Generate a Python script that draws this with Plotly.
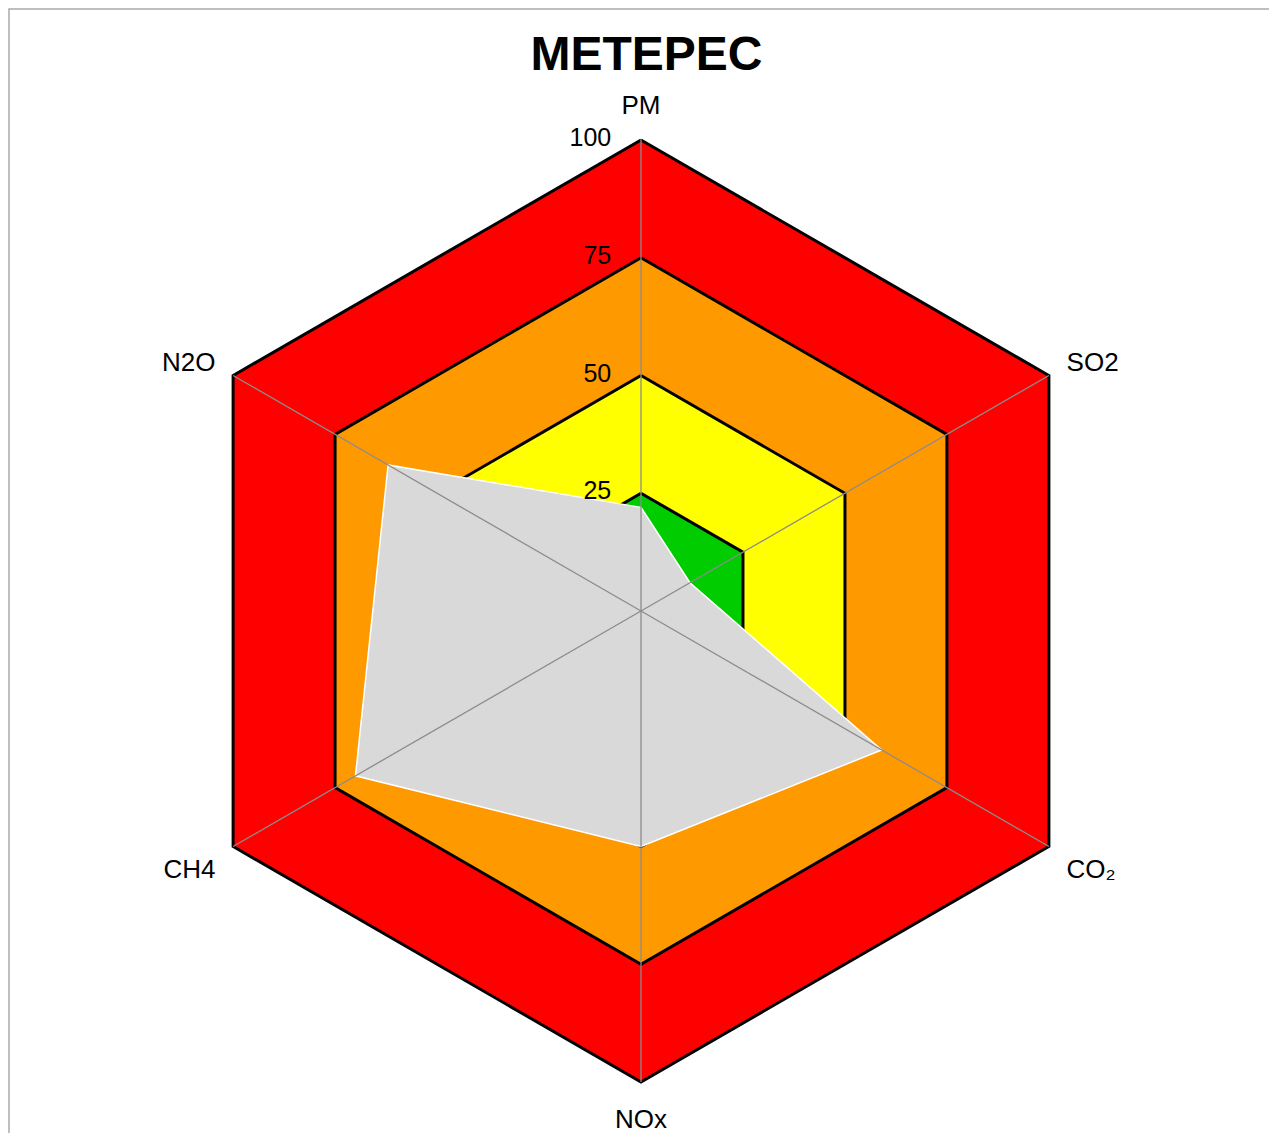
import plotly.graph_objects as go

categories = ["PM", "SO2", "CO\u2082", "NOx", "CH4", "N2O"]
values = [22, 12, 59, 50, 70, 62]
band_levels = [100, 75, 50, 25]
band_colors = ["#ff0000", "#ff9900", "#ffff00", "#00cc00"]
radial_ticks = [0, 25, 50, 75, 100]
title_text = "METEPEC"

W, H = 1277, 1133
# page has an 8px body margin; positions below are figure-relative
RMAX = 101  # small headroom so the outer outline is not clipped
cx, cy = 633, 603
R = 471 * RMAX / 100

fig = go.Figure()

closed_theta = categories + [categories[0]]

for lvl, col in zip(band_levels, band_colors):
    fig.add_trace(go.Scatterpolar(
        r=[lvl] * (len(categories) + 1), theta=closed_theta,
        mode="lines", fill="toself", fillcolor=col,
        line=dict(color="black", width=3), hoverinfo="skip", showlegend=False))

fig.add_trace(go.Scatterpolar(
    r=values + [values[0]], theta=closed_theta,
    mode="lines", fill="toself", fillcolor="#d9d9d9",
    line=dict(color="white", width=1.5), showlegend=False))

for c in categories:
    fig.add_trace(go.Scatterpolar(
        r=[0, 100], theta=[c, c], mode="lines",
        line=dict(color="#8c8c8c", width=1.3), hoverinfo="skip", showlegend=False))

fig.add_trace(go.Scatterpolar(
    r=radial_ticks, theta=[categories[0]] * len(radial_ticks),
    mode="markers+text", text=[str(t) for t in radial_ticks],
    textposition="middle left", cliponaxis=False,
    marker=dict(size=46, opacity=0),
    textfont=dict(family="Liberation Sans, Arial, sans-serif", size=25, color="black"),
    hoverinfo="skip", showlegend=False))

fig.update_layout(
    width=W, height=H,
    paper_bgcolor="white", plot_bgcolor="white",
    margin=dict(l=0, r=0, t=0, b=0),
    title=dict(text="<b>%s</b>" % title_text, x=0.5, xanchor="center",
               y=1 - 45 / H, yanchor="middle", yref="container",
               font=dict(family="Liberation Sans, Arial, sans-serif", size=48, color="black")),
    polar=dict(
        domain=dict(x=[(cx - R) / W, (cx + R) / W], y=[1 - (cy + R) / H, 1 - (cy - R) / H]),
        gridshape="linear",
        bgcolor="rgba(0,0,0,0)",
        radialaxis=dict(visible=False, range=[0, RMAX]),
        angularaxis=dict(direction="clockwise", rotation=90, showline=False, showgrid=False,
                         ticks="outside", ticklen=10, tickcolor="rgba(0,0,0,0)",
                         categoryarray=categories, categoryorder="array",
                         tickfont=dict(family="Liberation Sans, Arial, sans-serif", size=26, color="black")),
    ),
    shapes=[dict(type="rect", xref="paper", yref="paper",
                 x0=1 / W, x1=1266 / W, y0=-0.05, y1=1 - 1 / H,
                 line=dict(color="#aaaaaa", width=1.5), fillcolor="rgba(0,0,0,0)", layer="below")],
)

fig.write_html("out.html")
